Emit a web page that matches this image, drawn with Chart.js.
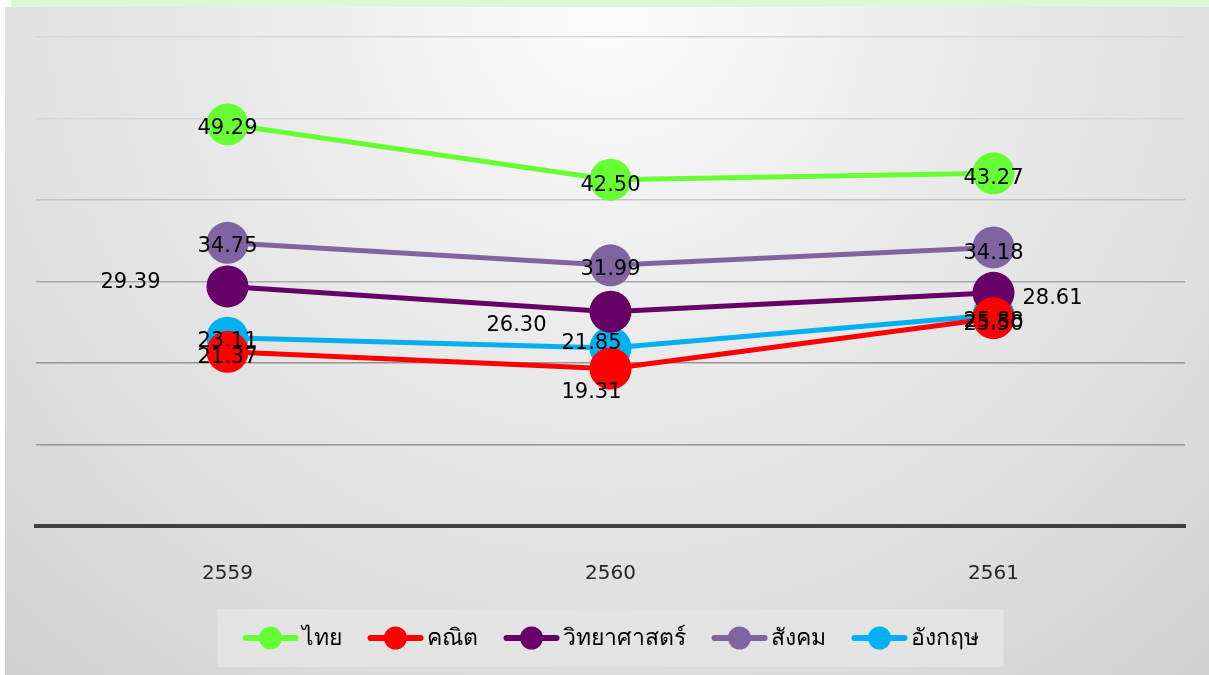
<!DOCTYPE html>
<html>
<head>
<meta charset="utf-8">
<script src="https://cdn.jsdelivr.net/npm/chart.js@4"></script>
<style>
  html, body { margin: 0; padding: 0; background: #ffffff; }
  #topband { position: absolute; left: 11px; top: 0; width: 1198px; height: 7px; background: #daf8d2; }
  #panel {
    position: absolute; left: 5px; top: 7px; width: 1204px; height: 668px;
    background: radial-gradient(ellipse 85% 150% at 50% 0%, #fcfcfc 0%, #ececec 30%, #dfdfdf 62%, #d3d3d3 85%, #c9c9c9 100%);
  }
  #wrap { position: absolute; left: 0; top: 0; width: 1209px; height: 675px; }
</style>
</head>
<body>
<div id="topband"></div>
<div id="panel"></div>
<div id="wrap"><canvas id="chart" width="1209" height="675"></canvas></div>
<script>
const years = ["2559", "2560", "2561"];
const seriesNames = ["ไทย", "คณิต", "วิทยาศาสตร์", "สังคม", "อังกฤษ"];
const thaiScores = [49.29, 42.50, 43.27];
const mathScores = [21.37, 19.31, 25.50];
const scienceScores = [29.39, 26.30, 28.61];
const socialScores = [34.75, 31.99, 34.18];
const englishScores = [23.11, 21.85, 25.88];
const yTicks = [0, 10, 20, 30, 40, 50, 60];

const colors = ["#66ff33", "#ff0000", "#660066", "#8064a2", "#00b0f0"];
// label nudges per series/point, in pixels
const labelShift = [
    [[0, 4], [0, 6], [0, 5]],
    [[0, 6], [-19, 24], [0, 6]],
    [[-97, -4], [-94, 14], [59, 6]],
    [[0, 4], [0, 4], [0, 6]],
    [[0, 4], [-19, -4], [0, 6]]
];

const allSeries = [thaiScores, mathScores, scienceScores, socialScores, englishScores];
const datasets = allSeries.map((vals, i) => ({
    label: seriesNames[i],
    data: vals,
    borderColor: colors[i],
    backgroundColor: colors[i],
    pointBackgroundColor: colors[i],
    pointBorderWidth: 0,
    pointRadius: 21,
    pointHoverRadius: 21,
    borderWidth: 5,
    tension: 0,
    pointStyle: "circle"
}));

const gridColor = (ctx) => {
    const v = ctx.tick ? ctx.tick.value : 0;
    if (v >= 50) return "#d6d6d6";
    if (v >= 40) return "#c2c2c2";
    if (v >= 30) return "#a8a8a8";
    return "#949494";
};

const valueLabels = {
    id: "valueLabels",
    afterDatasetsDraw(chart) {
        const ctx = chart.ctx;
        ctx.save();
        ctx.font = "21px 'DejaVu Sans', sans-serif";
        ctx.fillStyle = "#000000";
        ctx.textAlign = "center";
        ctx.textBaseline = "middle";
        chart.data.datasets.forEach((ds, i) => {
            const meta = chart.getDatasetMeta(i);
            meta.data.forEach((pt, j) => {
                const s = labelShift[i][j];
                ctx.fillText(ds.data[j].toFixed(2), pt.x + s[0], pt.y + s[1]);
            });
        });
        ctx.restore();
    }
};

// legend drawn by hand: boxed row of line+dot icons under the axis
const boxLegend = {
    id: "boxLegend",
    afterDraw(chart) {
        const ctx = chart.ctx;
        const area = chart.chartArea;
        const iconW = 56, gapText = 3, gapItem = 26, padX = 25;
        const cy = area.bottom + 112;
        ctx.save();
        ctx.font = "23px 'DejaVu Sans', sans-serif";
        const items = chart.data.datasets.map(ds => ({
            ds: ds, w: iconW + gapText + ctx.measureText(ds.label).width
        }));
        const total = items.reduce((a, it) => a + it.w, 0) + gapItem * (items.length - 1);
        const cx = (area.left + area.right) / 2;
        const left = cx - total / 2;
        ctx.fillStyle = "#e3e3e3";
        ctx.fillRect(left - padX, cy - 29, total + padX * 2, 58);
        let x = left;
        items.forEach(it => {
            const c = it.ds.borderColor;
            ctx.strokeStyle = c;
            ctx.lineWidth = 6;
            ctx.lineCap = "round";
            ctx.beginPath();
            ctx.moveTo(x + 3, cy);
            ctx.lineTo(x + iconW - 3, cy);
            ctx.stroke();
            ctx.fillStyle = c;
            ctx.beginPath();
            ctx.arc(x + iconW / 2, cy, 11.5, 0, Math.PI * 2);
            ctx.fill();
            ctx.fillStyle = "#000000";
            ctx.textAlign = "left";
            ctx.textBaseline = "middle";
            ctx.fillText(it.ds.label, x + iconW + gapText, cy + 1);
            x += it.w + gapItem;
        });
        ctx.restore();
    }
};

new Chart(document.getElementById("chart").getContext("2d"), {
    type: "line",
    data: { labels: years, datasets: datasets },
    options: {
        responsive: false,
        animation: false,
        layout: { padding: { left: 36, right: 24, top: 37, bottom: 53 } },
        scales: {
            x: {
                offset: true,
                grid: { display: false, drawTicks: false },
                border: { display: true, color: "#404040", width: 4 },
                ticks: { color: "#262626", font: { size: 20, family: "'DejaVu Sans', sans-serif" }, padding: 36 }
            },
            y: {
                min: 0,
                max: 60,
                afterBuildTicks(axis) { axis.ticks = yTicks.map(v => ({ value: v })); },
                ticks: { display: false },
                grid: { color: gridColor, lineWidth: 1.5, drawTicks: false },
                border: { display: false }
            }
        },
        plugins: {
            legend: { display: false },
            tooltip: { enabled: false }
        }
    },
    plugins: [valueLabels, boxLegend]
});
</script>
</body>
</html>
